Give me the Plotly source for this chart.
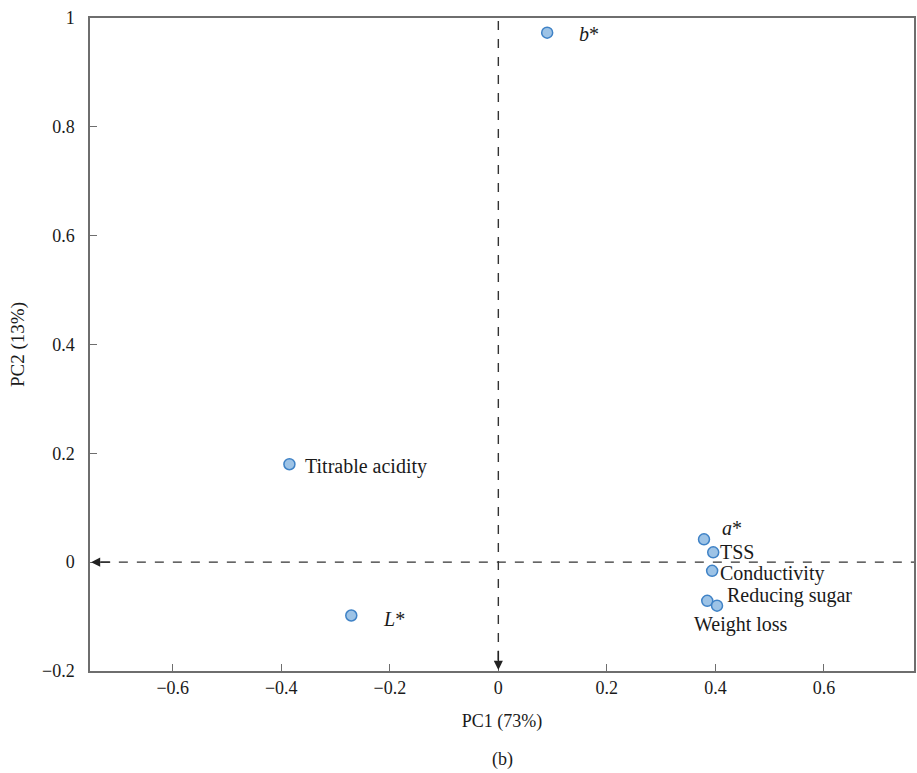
import plotly.graph_objects as go

labels = ["b*", "Titrable acidity", "L*", "a*", "TSS", "Conductivity", "Reducing sugar", "Weight loss"]
pc1 = [0.090, -0.385, -0.271, 0.379, 0.396, 0.394, 0.385, 0.403]
pc2 = [0.973, 0.180, -0.098, 0.042, 0.018, -0.016, -0.071, -0.080]
label_html = ["<i>b</i>*", "Titrable acidity", "<i>L</i>*", "<i>a</i>*", "TSS", "Conductivity", "Reducing sugar", "Weight loss"]
# label offsets in pixels (dx, dy)
offsets = [(30, -1), (14, -2), (30, -3), (16, 11), (5, 0), (6, -3), (18, 5), (-25, -19)]

xticks = [-0.6, -0.4, -0.2, 0, 0.2, 0.4, 0.6]
yticks = [-0.2, 0, 0.2, 0.4, 0.6, 0.8, 1]

FONT = "Liberation Serif"
TXT = "#1a1a1a"
fig = go.Figure()
fig.add_trace(go.Scatter(
    x=pc1, y=pc2, mode="markers",
    marker=dict(size=11, color="#9dc3e6", line=dict(color="#3f82c6", width=1.5)),
    hoverinfo="text", text=labels, showlegend=False,
))

XR = [-0.7525, 0.766]
YR = [-0.2, 1.0]

# dashed axes through origin
fig.add_shape(type="line", x0=XR[0] + 0.02, x1=XR[1], y0=0, y1=0, xref="x", yref="y",
              line=dict(color="#333", width=1.4, dash="dash"))
fig.add_shape(type="line", x0=0, x1=0, y0=YR[0] + 0.02, y1=YR[1], xref="x", yref="y",
              line=dict(color="#333", width=1.4, dash="dash"))
# arrowheads
fig.add_annotation(x=XR[0] + 0.002, y=0, ax=XR[0] + 0.04, ay=0, xref="x", yref="y", axref="x", ayref="y",
                   showarrow=True, arrowhead=2, arrowsize=1.3, arrowwidth=1.4, arrowcolor="#222", text="")
fig.add_annotation(x=0, y=YR[0] + 0.002, ax=0, ay=YR[0] + 0.04, xref="x", yref="y", axref="x", ayref="y",
                   showarrow=True, arrowhead=2, arrowsize=1.3, arrowwidth=1.4, arrowcolor="#222", text="")

for xv, yv, t, (dx, dy) in zip(pc1, pc2, label_html, offsets):
    fig.add_annotation(x=xv, y=yv, text=t, showarrow=False, xanchor="left", yanchor="middle",
                       xshift=dx, yshift=dy, font=dict(family=FONT, size=20, color=TXT))

fig.add_annotation(x=0.5, y=-0.155, xref="paper", yref="paper", text="(b)", showarrow=False,
                   font=dict(family=FONT, size=18, color=TXT))

axis_common = dict(showgrid=False, zeroline=False, showline=True, linecolor="#6e6e6e", linewidth=1.5,
                   mirror=True, ticks="inside", ticklen=7, tickcolor="#6e6e6e", tickwidth=1.2,
                   tickfont=dict(family=FONT, size=18, color=TXT))

def fmt(v):
    return ("−" if v < 0 else "") + f"{abs(v):g}"

fig.update_xaxes(range=XR, tickvals=xticks, ticktext=[fmt(v) for v in xticks],
                 title=dict(text="PC1 (73%)", font=dict(family=FONT, size=18, color=TXT), standoff=17),
                 **axis_common)
fig.update_yaxes(range=YR, tickvals=yticks, ticktext=[fmt(v) for v in yticks], ticklabelstandoff=10,
                 title=dict(text="PC2 (13%)", font=dict(family=FONT, size=19, color=TXT), standoff=12),
                 **axis_common)

fig.update_layout(width=917, height=773, margin=dict(l=90, r=1, t=18, b=102),
                  plot_bgcolor="white", paper_bgcolor="white")

fig.write_html("out.html")
